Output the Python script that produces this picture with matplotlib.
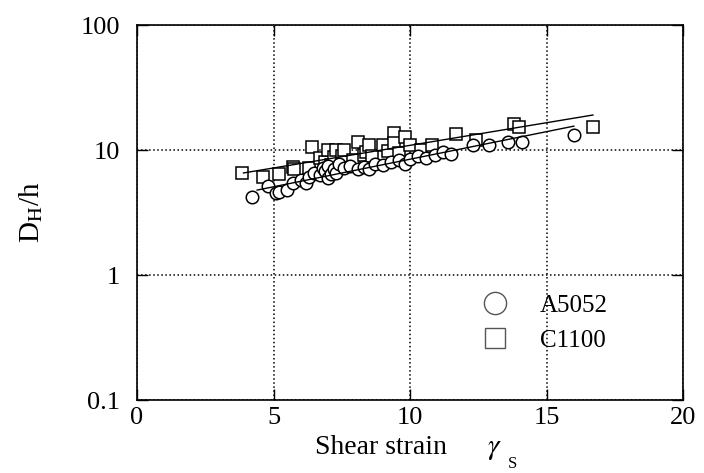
import numpy as np
import matplotlib
matplotlib.use('Agg')
from matplotlib import pyplot as plt
from matplotlib.lines import Line2D

# C1100 (squares)
c_x = [3.85, 4.6, 5.2, 5.7, 5.75, 6.3, 6.4, 6.7, 6.9, 7.0, 7.1, 7.2, 7.3, 7.5, 7.6,
       7.9, 8.1, 8.3, 8.4, 8.5, 8.6, 9.0, 9.2, 9.4, 9.4, 9.6, 9.8, 10.0, 10.4, 10.8,
       11.7, 12.4, 13.8, 14.0, 16.7]
c_y = [6.5, 6.1, 6.4, 7.3, 7.0, 7.2, 10.6, 8.6, 8.0, 10.0, 7.6, 8.8, 10.0, 9.0, 10.0,
       8.3, 11.6, 9.2, 9.6, 11.0, 8.9, 11.0, 9.8, 13.7, 11.4, 9.5, 12.7, 11.0, 10.0, 11.0,
       13.4, 12.0, 16.1, 15.3, 15.3]

# A5052 (circles)
a_x = [4.2, 4.8, 5.1, 5.2, 5.5, 5.7, 6.0, 6.2, 6.3, 6.5, 6.7, 6.8, 6.9, 7.0, 7.0,
       7.1, 7.2, 7.3, 7.4, 7.6, 7.8, 8.1, 8.3, 8.5, 8.7, 9.0, 9.3, 9.6, 9.8, 10.0,
       10.3, 10.6, 10.9, 11.2, 11.5, 12.3, 12.9, 13.6, 14.1, 16.0]
a_y = [4.2, 5.2, 4.5, 4.6, 4.8, 5.5, 5.8, 5.5, 6.1, 6.5, 6.3, 7.2, 6.8, 6.0, 7.5,
       6.4, 7.0, 6.6, 7.8, 7.2, 7.5, 7.0, 7.3, 7.1, 7.8, 7.6, 8.0, 8.3, 7.8, 8.5,
       9.0, 8.6, 9.2, 9.6, 9.3, 11.0, 11.0, 11.6, 11.6, 13.2]

# fitted lines: log10(y) = a + b*x over [x0, x1]
c_fit = (0.676, 0.0362, 3.9, 16.7)
a_fit = (0.486, 0.0441, 4.4, 16.0)

xticks = [0, 5, 10, 15, 20]
yticks = [0.1, 1, 10, 100]
yticklabels = ['0.1', '1', '10', '100']

plt.rcParams['font.family'] = ['Liberation Serif', 'DejaVu Serif']
plt.rcParams['mathtext.fontset'] = 'stix'

fig = plt.figure(figsize=(7.04, 4.73), dpi=100)
ax = fig.add_axes([0.1946, 0.154, 0.7756, 0.793])

ax.plot(c_x, c_y, 's', ms=8.5, mfc='white', mec='black', mew=1.1, zorder=3)
ax.plot(a_x, a_y, 'o', ms=9, mfc='white', mec='black', mew=1.1, zorder=3)

for f in (c_fit, a_fit):
    xx = np.linspace(f[2], f[3], 50)
    ax.plot(xx, 10 ** (f[0] + f[1] * xx), color='black', lw=1.0, zorder=4)

ax.set_yscale('log')
ax.set_xlim(0, 20)
ax.set_ylim(0.1, 100)
ax.set_xticks(xticks)
ax.set_yticks(yticks)
ax.set_yticklabels(yticklabels)
ax.minorticks_off()
ax.tick_params(direction='in', length=8, width=1, top=True, right=True,
               labelsize=19, colors='black')
ax.tick_params(axis='x', pad=5)
ax.tick_params(axis='y', pad=12)
for s in ax.spines.values():
    s.set_linewidth(1.2)
ax.grid(True, which='major', linestyle=':', color='black', lw=1.1)

# x axis title: text, gamma and a low subscript S
fig.text(315 / 704, 1 - 454 / 473, 'Shear strain', fontsize=20, va='baseline', ha='left')
fig.text(487 / 704, 1 - 454 / 473, r'$\gamma$', fontsize=21, va='baseline', ha='left')
fig.text(508 / 704, 0.003, 'S', fontsize=12, va='bottom', ha='left')

ax.set_ylabel(r'D$_{\mathrm{H}}$/h', fontsize=21)
ax.yaxis.set_label_coords(-0.168, 0.5)

handles = [Line2D([], [], ls='', marker='o', ms=16, mfc='white', mec='#555555', mew=1.0),
           Line2D([], [], ls='', marker='s', ms=15, mfc='white', mec='#555555', mew=1.0)]
ax.legend(handles, ['A5052', 'C1100'], loc='center left', bbox_to_anchor=(0.614, 0.205),
          borderaxespad=0, frameon=False, fontsize=18, handlelength=1.0,
          handletextpad=1.3, labelspacing=0.5)

fig.savefig('out.png', dpi=100)
